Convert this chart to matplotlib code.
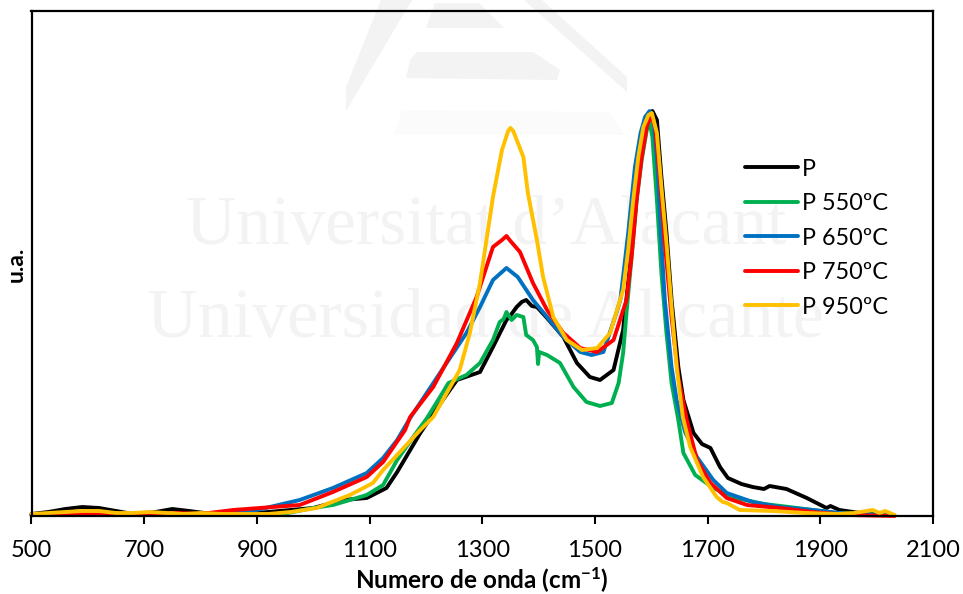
import matplotlib
matplotlib.use('Agg')
import matplotlib.pyplot as plt
from matplotlib.patches import Polygon

plt.rcParams['font.family'] = ['Lato', 'DejaVu Sans']
plt.rcParams['mathtext.fontset'] = 'custom'
plt.rcParams['mathtext.bf'] = 'Lato:bold'
plt.rcParams['mathtext.rm'] = 'Lato'

# y is arbitrary units
p_x = [500, 530, 560, 590, 620, 650, 680, 720, 750, 780, 820, 900, 1000, 1053, 1095, 1130, 1149, 1190, 1225, 1255,
       1296, 1319, 1343, 1352, 1361, 1370, 1378, 1388, 1397, 1415, 1444, 1468, 1491, 1509, 1533, 1550, 1559, 1568,
       1577, 1586, 1595, 1602, 1610, 1618, 1627, 1636, 1648, 1657, 1675, 1690, 1705, 1722, 1736, 1760, 1780, 1800,
       1810, 1840, 1876, 1911, 1918, 1934, 1970, 2030]
p_y = [2, 4, 7, 9, 8, 5, 2, 4, 7, 5, 2, 3, 8, 16, 18, 28, 44, 83, 112, 136,
       144, 169, 196, 202, 209, 214, 216, 210, 209, 198, 179, 153, 139, 136, 146, 186, 233, 283,
       339, 383, 401, 405, 396, 339, 283, 216, 149, 116, 83, 72, 68, 49, 38, 32, 29, 27,
       30, 27, 18, 8, 10, 6, 3, 1]

p550_x = [500, 600, 700, 800, 900, 946, 1000, 1035, 1095, 1124, 1149, 1180, 1202, 1225, 1240, 1272, 1296, 1319, 1331,
          1338, 1343, 1352, 1361, 1373, 1378, 1390, 1397, 1399, 1401, 1415, 1438, 1462, 1485, 1509, 1530, 1542,
          1550, 1556, 1565, 1574, 1583, 1592, 1597, 1602, 1610, 1618, 1627, 1636, 1648, 1657, 1678, 1710, 1750, 1800,
          1830, 1887, 1930, 2030]
p550_y = [2, 1, 1, 1, 1, 2, 8, 11, 21, 31, 56, 81, 98, 119, 133, 141, 153, 176, 194,
          197, 204, 196, 201, 199, 181, 176, 169, 152, 164, 161, 153, 129, 114, 110, 113, 133,
          163, 203, 259, 316, 356, 386, 394, 379, 316, 243, 183, 133, 96, 63, 41, 28, 18, 12,
          10, 6, 3, 1]

p650_x = [500, 600, 700, 800, 858, 900, 976, 1035, 1095, 1124, 1149, 1172, 1225, 1272, 1296, 1319, 1343, 1363, 1390,
          1415, 1444, 1474, 1494, 1515, 1538, 1545, 1552, 1559, 1565, 1571, 1581, 1589, 1597, 1604, 1611, 1617, 1624,
          1636, 1645, 1660, 1681, 1710, 1734, 1780, 1828, 1887, 1950, 2030]
p650_y = [1, 1, 1, 1, 3, 6, 16, 28, 43, 58, 76, 98, 143, 183, 209, 236, 248, 239, 216,
          199, 179, 164, 161, 164, 203, 216, 249, 283, 316, 349, 383, 399, 405, 396, 349, 283, 216,
          149, 116, 84, 59, 36, 23, 14, 9, 6, 2, 1]

p750_x = [500, 600, 700, 760, 800, 858, 976, 1035, 1095, 1124, 1163, 1172, 1213, 1255, 1290, 1319, 1335, 1343, 1350,
          1367, 1390, 1415, 1444, 1474, 1504, 1533, 1556, 1565, 1574, 1583, 1592, 1599, 1607, 1616, 1624, 1636, 1648,
          1663, 1681, 1705, 1734, 1770, 1828, 1887, 1950, 2032]
p750_y = [1, 2, 1, 3, 2, 6, 11, 24, 39, 54, 86, 99, 129, 173, 219, 269, 276, 280, 275,
          264, 233, 206, 183, 168, 164, 176, 216, 259, 316, 359, 389, 401, 389, 333, 273, 199, 139,
          96, 56, 33, 18, 11, 8, 4, 1, 0]

p950_x = [500, 530, 560, 590, 620, 650, 680, 710, 740, 770, 800, 840, 880, 920, 960, 1006, 1065, 1106, 1124, 1149,
          1190, 1213, 1237, 1260, 1278, 1296, 1319, 1335, 1346, 1350, 1355, 1373, 1381, 1397, 1408, 1426, 1450, 1477,
          1504, 1527, 1550, 1559, 1568, 1577, 1586, 1595, 1601, 1610, 1618, 1627, 1636, 1645, 1656, 1669, 1692, 1716,
          1727, 1734, 1757, 1816, 1875, 1930, 1960, 1993, 2005, 2015, 2032]
p950_y = [2, 3, 4, 5, 5, 3, 3, 4, 3, 2, 3, 2, 2, 2, 4, 8, 21, 33, 46, 61,
          86, 99, 123, 146, 183, 233, 319, 366, 385, 388, 385, 359, 323, 276, 239, 199, 176, 166,
          168, 183, 226, 266, 316, 359, 389, 401, 403, 383, 329, 273, 209, 149, 99, 69, 39, 19,
          14, 13, 6, 5, 3, 2, 3, 6, 3, 5, 1]

x_ticks = [500, 700, 900, 1100, 1300, 1500, 1700, 1900, 2100]

W, H = 963, 594
fig = plt.figure(figsize=(W / 100, H / 100), dpi=100, facecolor='white')
ax = fig.add_axes([31.5 / W, (H - 516) / H, 901.5 / W, 505 / H], facecolor='none')

# pale watermark behind the plot
def px_poly(pts, color='#f3f3f3'):
    xy = [(a / W, 1 - b / H) for a, b in pts]
    fig.add_artist(Polygon(xy, closed=True, facecolor=color, edgecolor='none', transform=fig.transFigure, zorder=-5))

px_poly([(435, 3), (479, 3), (504, 28), (426, 28)])
px_poly([(417, 52), (533, 52), (560, 70), (557, 80), (406, 78), (410, 60)])
px_poly([(381, 0), (346, 87), (346, 111), (412, 0)])
px_poly([(524, 0), (542, 0), (627, 77), (627, 92)])
px_poly([(394, 135), (402, 110), (608, 112), (625, 135)], '#fbfbfb')
fig.text(486 / W, 1 - 227 / H, 'Universitat d\u2019Alacant', family='Liberation Serif', fontsize=50, color='#f3f3f3',
         ha='center', va='center', zorder=-4)
fig.text(485 / W, 1 - 320 / H, 'Universidad de Alicante', family='Liberation Serif', fontsize=50.5, color='#f3f3f3',
         ha='center', va='center', zorder=-4)

series = [(p_x, p_y, '#000000', 'P'),
          (p550_x, p550_y, '#00b050', 'P 550ºC'),
          (p650_x, p650_y, '#0070c0', 'P 650ºC'),
          (p750_x, p750_y, '#ff0000', 'P 750ºC'),
          (p950_x, p950_y, '#ffc000', 'P 950ºC')]
for xs, ys, col, name in series:
    ax.plot(xs, ys, color=col, lw=2.8, label=name, clip_on=False, solid_joinstyle='round', solid_capstyle='round')

ax.set_xlim(500, 2100)
ax.set_ylim(0, 505)
ax.set_xticks(x_ticks)
ax.set_yticks([])
ax.tick_params(axis='x', direction='out', length=6, width=1.5, labelsize=17, pad=11.5, colors='black')
for s in ax.spines.values():
    s.set_linewidth(1.6)

fig.text(482 / W, 1 - 589 / H, r'Numero de onda (cm$\mathbf{^{-1}}$)', fontsize=17.5, fontweight='bold',
         ha='center', va='baseline')
fig.text(16 / W, 1 - 264 / H, 'u.a.', fontsize=16.5, fontweight='bold', rotation=90, ha='center', va='center')

ax.legend(loc='upper left', bbox_to_anchor=(713 / 901.5, 1 - 147.5 / 505), frameon=False, fontsize=16.8, borderpad=0,
          borderaxespad=0, handlelength=2.3, handletextpad=0.17, labelspacing=0.58)

fig.savefig('out.png', dpi=100)
